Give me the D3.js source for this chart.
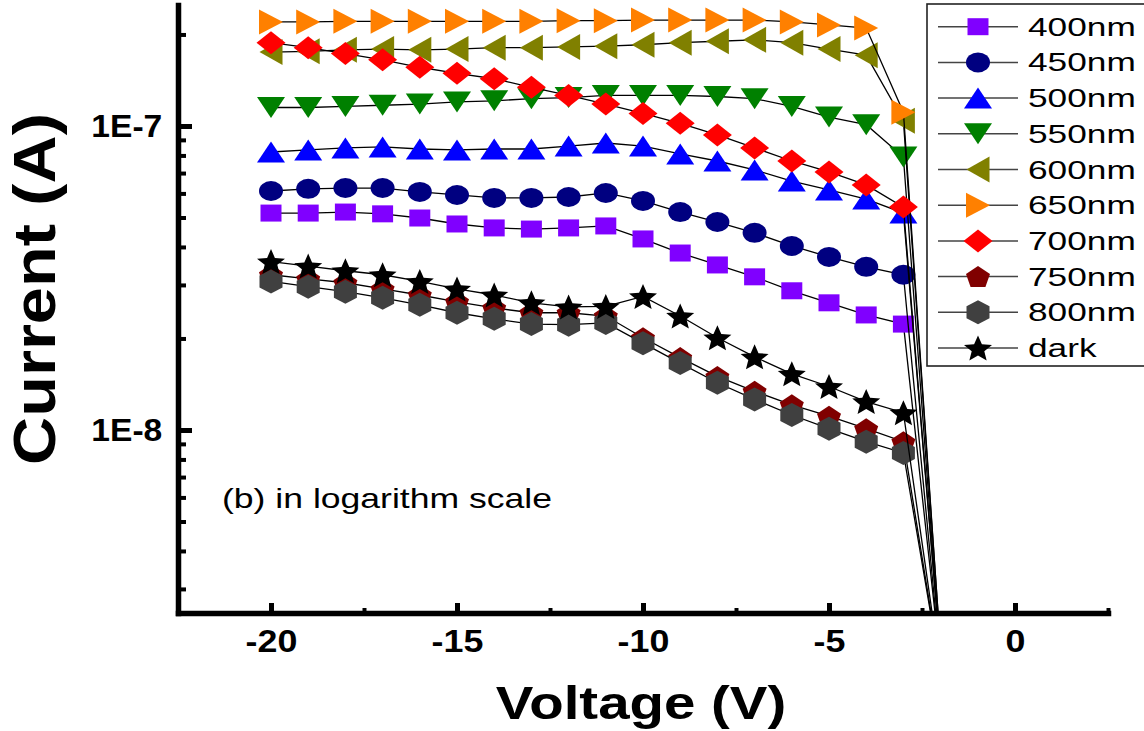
<!DOCTYPE html>
<html>
<head>
<meta charset="utf-8">
<script src="https://cdn.jsdelivr.net/npm/d3@7"></script>
<style>
html, body { margin: 0; padding: 0; background: #fff; }
svg { display: block; font-family: "Liberation Sans", Arial, sans-serif; }
</style>
</head>
<body>
<svg id="chart" width="1144" height="731"></svg>
<script>
// bias voltage (V); the last point (-2 V) lies below the plotted range
const voltage = [-20, -19, -18, -17, -16, -15, -14, -13, -12, -11, -10, -9, -8, -7, -6, -5, -4, -3, -2];

// photocurrent (A)
const i400 = [5.17e-8, 5.17e-8, 5.21e-8, 5.14e-8, 4.98e-8, 4.76e-8, 4.62e-8, 4.58e-8, 4.62e-8, 4.69e-8, 4.25e-8, 3.82e-8, 3.49e-8, 3.19e-8, 2.87e-8, 2.62e-8, 2.39e-8, 2.23e-8, 1.7e-9];
const i450 = [6.11e-8, 6.21e-8, 6.25e-8, 6.25e-8, 6.07e-8, 5.93e-8, 5.80e-8, 5.80e-8, 5.84e-8, 6.02e-8, 5.67e-8, 5.21e-8, 4.83e-8, 4.45e-8, 4.03e-8, 3.71e-8, 3.44e-8, 3.24e-8, 1.7e-9];
const i500 = [8.21e-8, 8.34e-8, 8.47e-8, 8.53e-8, 8.40e-8, 8.34e-8, 8.40e-8, 8.40e-8, 8.59e-8, 8.79e-8, 8.59e-8, 8.09e-8, 7.67e-8, 7.17e-8, 6.59e-8, 6.16e-8, 5.75e-8, 5.17e-8, 1.8e-9];
const i550 = [1.15e-7, 1.15e-7, 1.16e-7, 1.17e-7, 1.18e-7, 1.20e-7, 1.21e-7, 1.23e-7, 1.24e-7, 1.26e-7, 1.26e-7, 1.26e-7, 1.25e-7, 1.23e-7, 1.16e-7, 1.07e-7, 1.01e-7, 7.9e-8, 1.8e-9];
const i600 = [1.75e-7, 1.76e-7, 1.78e-7, 1.79e-7, 1.78e-7, 1.79e-7, 1.81e-7, 1.81e-7, 1.82e-7, 1.83e-7, 1.85e-7, 1.88e-7, 1.90e-7, 1.92e-7, 1.88e-7, 1.79e-7, 1.71e-7, 1.04e-7, 1.9e-9];
const i650 = [2.20e-7, 2.20e-7, 2.21e-7, 2.21e-7, 2.21e-7, 2.21e-7, 2.21e-7, 2.21e-7, 2.22e-7, 2.22e-7, 2.23e-7, 2.23e-7, 2.23e-7, 2.23e-7, 2.20e-7, 2.15e-7, 2.10e-7, 1.11e-7, 1.9e-9];
const i700 = [1.88e-7, 1.81e-7, 1.73e-7, 1.65e-7, 1.56e-7, 1.49e-7, 1.43e-7, 1.34e-7, 1.26e-7, 1.18e-7, 1.10e-7, 1.02e-7, 9.34e-8, 8.47e-8, 7.67e-8, 7.06e-8, 6.40e-8, 5.41e-8, 1.8e-9];
const i750 = [3.24e-8, 3.14e-8, 3.05e-8, 2.91e-8, 2.78e-8, 2.64e-8, 2.52e-8, 2.43e-8, 2.43e-8, 2.37e-8, 2.01e-8, 1.73e-8, 1.50e-8, 1.34e-8, 1.21e-8, 1.11e-8, 1.01e-8, 9.15e-9, 1.6e-9];
const i800 = [3.08e-8, 2.96e-8, 2.85e-8, 2.72e-8, 2.58e-8, 2.43e-8, 2.32e-8, 2.23e-8, 2.22e-8, 2.25e-8, 1.93e-8, 1.66e-8, 1.43e-8, 1.26e-8, 1.12e-8, 1.01e-8, 9.15e-9, 8.4e-9, 1.6e-9];
const iDark = [3.58e-8, 3.46e-8, 3.34e-8, 3.24e-8, 3.08e-8, 2.91e-8, 2.78e-8, 2.62e-8, 2.54e-8, 2.55e-8, 2.75e-8, 2.37e-8, 2.01e-8, 1.74e-8, 1.53e-8, 1.39e-8, 1.24e-8, 1.14e-8, 1.6e-9];

const seriesNames = ["400nm", "450nm", "500nm", "550nm", "600nm", "650nm", "700nm", "750nm", "800nm", "dark"];
const seriesValues = [i400, i450, i500, i550, i600, i650, i700, i750, i800, iDark];
const seriesColors = ["#8000ff", "#000080", "#0000ff", "#008000", "#808000", "#ff8000", "#ff0000", "#800000", "#404040", "#000000"];
const seriesShapes = ["square", "circle", "up", "down", "left", "right", "diamond", "pentagon", "hexagon", "star"];

const xMajor = [-20, -15, -10, -5, 0];
const xMinor = [-17.5, -12.5, -7.5, -2.5, 2.5];
const yMajor = [1e-8, 1e-7];
const yMinor = [3e-9, 4e-9, 5e-9, 6e-9, 7e-9, 8e-9, 9e-9, 2e-8, 3e-8, 4e-8, 5e-8, 6e-8, 7e-8, 8e-8, 9e-8, 2e-7];
const yLabels = { "1e-8": "1E-8", "1e-7": "1E-7" };

const svg = d3.select("#chart");
const plotLeft = 178, plotRight = 1108, plotTop = 5, plotBottom = 613;

const x = d3.scaleLinear().domain([-22.5, 2.5]).range([plotLeft, plotRight]);
const y = d3.scaleLog().domain([2.5e-9, 2.5e-7]).range([plotBottom, plotTop]);

// marker geometry: bbox width / height in px
const markerSize = {
  square: [21, 17], circle: [24, 20], up: [28, 21], down: [28, 21], left: [23, 26],
  right: [24, 25], diamond: [29, 23], pentagon: [24, 21], hexagon: [23, 24], star: [28, 25]
};

function polygon(n, inner) {
  const pts = [];
  const k = inner ? n * 2 : n;
  for (let i = 0; i < k; i++) {
    const a = -Math.PI / 2 + i * Math.PI * 2 / k;
    const r = inner && i % 2 ? inner : 1;
    pts.push([r * Math.cos(a), r * Math.sin(a)]);
  }
  return pts;
}

function markerPath(shape) {
  const [w, h] = markerSize[shape];
  if (shape === "circle") {
    const rx = w / 2, ry = h / 2;
    return `M${-rx},0A${rx},${ry} 0 1,0 ${rx},0A${rx},${ry} 0 1,0 ${-rx},0Z`;
  }
  let pts;
  if (shape === "square") pts = [[-1, -1], [1, -1], [1, 1], [-1, 1]];
  else if (shape === "up") pts = [[0, -1], [1, 1], [-1, 1]];
  else if (shape === "down") pts = [[-1, -1], [1, -1], [0, 1]];
  else if (shape === "left") pts = [[-1, 0], [1, -1], [1, 1]];
  else if (shape === "right") pts = [[-1, -1], [1, 0], [-1, 1]];
  else if (shape === "diamond") pts = [[0, -1], [1, 0], [0, 1], [-1, 0]];
  else if (shape === "pentagon") pts = polygon(5);
  else if (shape === "hexagon") pts = polygon(6);
  else pts = polygon(5, 0.45);
  const ex = d3.extent(pts, p => p[0]), ey = d3.extent(pts, p => p[1]);
  const sx = d3.scaleLinear().domain(ex).range([-w / 2, w / 2]);
  const sy = d3.scaleLinear().domain(ey).range([-h / 2, h / 2]);
  return d3.line().x(p => sx(p[0])).y(p => sy(p[1]))(pts) + "Z";
}

function stretchText(g, px, py, str, size, sx, weight, anchor) {
  return g.append("text")
    .attr("transform", `translate(${px},${py}) scale(${sx},1)`)
    .attr("text-anchor", anchor)
    .style("font-size", size + "px")
    .style("font-weight", weight)
    .attr("fill", "#000")
    .text(str);
}

svg.append("defs").append("clipPath").attr("id", "plotclip")
  .append("rect").attr("x", plotLeft).attr("y", 0).attr("width", plotRight - plotLeft).attr("height", plotBottom);

// series
const plot = svg.append("g").attr("class", "series");
const line = d3.line().x(d => x(d.v)).y(d => y(d.i));

seriesValues.forEach((vals, s) => {
  const pts = vals.map((v, k) => ({ v: voltage[k], i: v }));
  const g = plot.append("g");
  g.append("path")
    .datum(pts)
    .attr("clip-path", "url(#plotclip)")
    .attr("d", line)
    .attr("fill", "none")
    .attr("stroke", "#000")
    .attr("stroke-width", 1.3);
  g.selectAll("path.mk")
    .data(pts.filter(d => d.i >= y.domain()[0]))
    .join("path")
    .attr("class", "mk")
    .attr("transform", d => `translate(${x(d.v)},${y(d.i)})`)
    .attr("d", markerPath(seriesShapes[s]))
    .attr("fill", seriesColors[s]);
});

// axes
const axisG = svg.append("g").attr("class", "axes");

const yAxis = axisG.append("g").attr("transform", `translate(${plotLeft},0)`)
  .call(d3.axisLeft(y).tickValues(yMajor).tickSize(-14).tickSizeOuter(0).tickPadding(15)
    .tickFormat(d => yLabels[String(d)]));
yAxis.select(".domain").attr("stroke-width", 5.5).attr("stroke-linecap", "square");
yAxis.selectAll(".tick line").attr("stroke-width", 5);
yAxis.selectAll(".tick text")
  .style("font-size", "32px").style("font-weight", "bold")
  .attr("transform", "scale(1.05,1)")
  .attr("fill", "#000");

axisG.append("g").attr("transform", `translate(${plotLeft},0)`)
  .call(d3.axisLeft(y).tickValues(yMinor).tickSize(-8).tickFormat(() => ""))
  .call(g => g.select(".domain").remove())
  .selectAll(".tick line").attr("stroke-width", 4);

const xAxis = axisG.append("g").attr("transform", `translate(0,${plotBottom})`)
  .call(d3.axisBottom(x).tickValues(xMajor).tickSize(-10).tickSizeOuter(0).tickPadding(16)
    .tickFormat(d => String(d)));
xAxis.select(".domain").attr("stroke-width", 5.5).attr("stroke-linecap", "square");
xAxis.selectAll(".tick line").attr("stroke-width", 5);
xAxis.selectAll(".tick text")
  .style("font-size", "32px").style("font-weight", "bold")
  .attr("transform", "scale(1.12,1)")
  .attr("fill", "#000");

axisG.append("g").attr("transform", `translate(0,${plotBottom})`)
  .call(d3.axisBottom(x).tickValues(xMinor).tickSize(-5).tickFormat(() => ""))
  .call(g => g.select(".domain").remove())
  .selectAll(".tick line").attr("stroke-width", 4);

axisG.selectAll("g").attr("font-family", null);

// axis titles
stretchText(svg, 641, 719, "Voltage (V)", 47, 1.2, "bold", "middle");
svg.append("text")
  .attr("transform", "translate(55,289) rotate(-90) scale(1.13,1)")
  .attr("text-anchor", "middle")
  .style("font-size", "59px")
  .style("font-weight", "bold")
  .text("Current (A)");

// annotation
stretchText(svg, 222, 508, "(b) in logarithm scale", 28, 1.27, "normal", "start");

// legend
const legend = svg.append("g").attr("class", "legend");
legend.append("rect")
  .attr("x", 927).attr("y", 4).attr("width", 240).attr("height", 362)
  .attr("fill", "#fff").attr("stroke", "#222").attr("stroke-width", 1.6);

seriesNames.forEach((name, s) => {
  const cy = 26.7 + s * 35.7;
  const row = legend.append("g");
  row.append("line")
    .attr("x1", 938).attr("x2", 1018).attr("y1", cy).attr("y2", cy)
    .attr("stroke", "#444").attr("stroke-width", 1.5);
  row.append("path")
    .attr("transform", `translate(978,${cy})`)
    .attr("d", markerPath(seriesShapes[s]))
    .attr("fill", seriesColors[s]);
  stretchText(row, 1028, cy + 9, name, 25, 1.41, "normal", "start");
});
</script>
</body>
</html>
